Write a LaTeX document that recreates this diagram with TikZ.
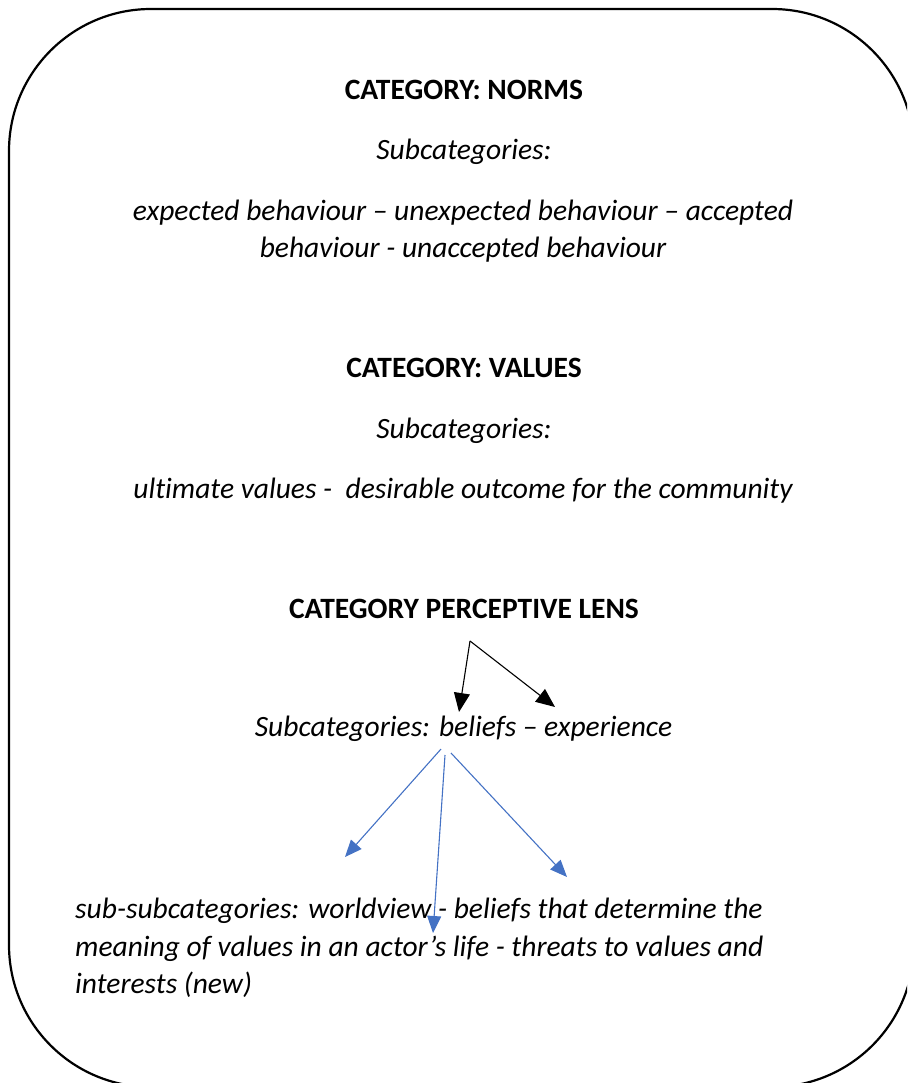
\documentclass[tikz,border=0pt]{standalone}
\usepackage{fontspec}
\setmainfont{Carlito}[Ligatures=NoCommon]
\usepackage{xcolor}
\usetikzlibrary{arrows.meta}
\definecolor{officeblue}{HTML}{4472C4}

\tikzset{
  frame/.style={line width=2.2pt, rounded corners=142pt},
  cattext/.style={anchor=base, inner sep=0pt, font=\bfseries},
  subtext/.style={anchor=base, inner sep=0pt, font=\itshape, align=center},
  blackarrow/.style={line width=1.1pt, -{Triangle[length=19pt,width=16pt]}},
  bluearrow/.style={line width=1.1pt, color=officeblue, -{Triangle[length=17pt,width=14pt]}}
}

\begin{document}
\begin{tikzpicture}[x=1pt,y=-1pt]
      \useasboundingbox (0,0) rectangle (907,1083);
      \clip (0,0) rectangle (907,1083);
      \fontsize{29.5}{37.5}\selectfont

      \draw[frame] (9,9) rectangle (914,1087);

      \node[cattext] (norms) at (464,100) {CATEGORY: NORMS};
      \node[subtext] (normsub) at (464,160) {Subcategories:};
      \node[subtext, anchor=north] (normlist) at (463,199.5)
        {expected behaviour -- unexpected behaviour -- accepted\\behaviour - unaccepted behaviour};

      \node[cattext] (values) at (464,377) {CATEGORY: VALUES};
      \node[subtext] (valuessub) at (464,438) {Subcategories:};
      \node[subtext] (valueslist) at (463,498) {ultimate values -\ \ desirable outcome for the community};

      \node[cattext] (lens) at (464,618) {CATEGORY PERCEPTIVE LENS};
      \node[subtext] (lenssub) at (463.5,736) {Subcategories: beliefs -- experience};

      \node[subtext, anchor=north west, align=left] (subsub) at (75,898)
        {\fontsize{29.5}{38.5}\selectfont sub-subcategories: worldview - beliefs that determine the\\
         meaning of values in an actor’s life - threats to values and\\
         interests (new)};

      \coordinate (lensout) at (470,641);
      \coordinate (beliefstip) at (459,712);
      \coordinate (experiencetip) at (555,707);
      \draw[blackarrow] (lensout) -- (beliefstip);
      \draw[blackarrow] (lensout) -- (experiencetip);

      \coordinate (beliefsleft) at (441,749);
      \coordinate (beliefsmid) at (445,755);
      \coordinate (beliefsright) at (451,753);
      \coordinate (worldviewtip) at (345,857);
      \coordinate (meaningtip) at (433,933);
      \coordinate (threatstip) at (567,877);
      \draw[bluearrow] (beliefsleft) -- (worldviewtip);
      \draw[bluearrow] (beliefsmid) -- (meaningtip);
      \draw[bluearrow] (beliefsright) -- (threatstip);
    \end{tikzpicture}
\end{document}
